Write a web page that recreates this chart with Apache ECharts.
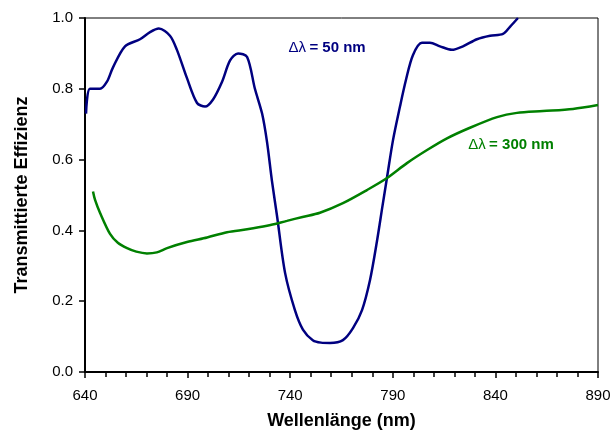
<!DOCTYPE html>
<html>
<head>
<meta charset="utf-8">
<script src="https://cdn.jsdelivr.net/npm/echarts@6/dist/echarts.min.js"></script>
<style>
  html, body { margin: 0; padding: 0; background: #fff; }
  #chart { width: 611px; height: 432px; }
</style>
</head>
<body>
<div id="chart"></div>
<script>
var myChart = echarts.init(document.getElementById('chart'));

// Δλ = 50 nm  (Wellenlänge, Effizienz)
var wl50 = [640.5, 642.4, 647.3, 650.7, 653.6, 659.5, 666.8, 671.7, 676, 681.4, 684.8, 689.7, 694.6, 698.5, 702.4,
    706.8, 710.7, 714.6, 719, 722.8, 726.3, 728.7, 731.1, 733.6, 737.5, 742.3, 746.2, 751, 755, 759.4,
    765.7, 770.6, 775, 778.9, 782.3, 785, 787.2, 790.1, 793.5, 796.4, 799.8, 804.2, 808.1, 813,
    818.8, 824.2, 831, 837.4, 843.7, 847.1, 851];
var eff50 = [0.73, 0.80, 0.80, 0.82, 0.86, 0.92, 0.94, 0.96, 0.97, 0.95, 0.91, 0.83, 0.76, 0.75, 0.77,
    0.82, 0.88, 0.90, 0.89, 0.80, 0.73, 0.65, 0.54, 0.44, 0.28, 0.175, 0.12, 0.09, 0.083, 0.082,
    0.09, 0.124, 0.175, 0.26, 0.37, 0.47, 0.55, 0.655, 0.75, 0.825, 0.895, 0.93, 0.93, 0.92,
    0.91, 0.92, 0.94, 0.95, 0.955, 0.975, 1.0];

// Δλ = 300 nm
var wl300 = [643.9, 644.9, 647.3, 652.2, 656, 660.5, 665, 670.2, 675, 680, 689.7, 699.5, 709.2, 719, 728.7,
    738.4, 746, 754.5, 765.7, 777.4, 787.2, 796.9, 806.7, 816.4, 827.6, 840.8, 850.5, 863.2, 877.8, 890];
var eff300 = [0.51, 0.486, 0.45, 0.39, 0.365, 0.35, 0.34, 0.335, 0.338, 0.35, 0.367, 0.38, 0.395, 0.403, 0.413,
    0.427, 0.438, 0.45, 0.477, 0.514, 0.548, 0.59, 0.627, 0.66, 0.69, 0.72, 0.732, 0.737, 0.743, 0.754];

var pairs = function (xs, ys) {
    var res = [];
    for (var i = 0; i < xs.length; i++) {
        res.push([xs[i], ys[i]]);
    }
    return res;
};

var font = 'Liberation Sans, Arial, sans-serif';

// Beschriftung: Δλ normal, Rest fett
var curveLabel = function (text, color) {
    return {
        show: true, position: 'inside',
        formatter: '{a|Δλ} {b|' + text + '}',
        rich: {
            a: { fontFamily: font, fontSize: 15, color: color },
            b: { fontFamily: font, fontSize: 15, fontWeight: 'bold', color: color }
        }
    };
};

option = {
    backgroundColor: '#fff',
    animation: false,
    grid: {
        left: 85, right: 13, top: 18, bottom: 60,
        outerBoundsMode: 'none',
        containLabel: false,
        show: true,
        borderColor: '#000',
        borderWidth: 1
    },
    xAxis: {
        type: 'value',
        min: 640, max: 890, interval: 50,
        name: 'Wellenlänge (nm)',
        nameLocation: 'middle',
        nameGap: 40,
        nameTextStyle: { fontFamily: font, fontWeight: 'bold', fontSize: 18, color: '#000' },
        axisLine: { lineStyle: { color: '#000', width: 2 } },
        axisTick: { length: 6, lineStyle: { color: '#000', width: 1.5 } },
        minorTick: { show: true, splitNumber: 5, length: 5, lineStyle: { color: '#000', width: 1.5 } },
        axisLabel: { fontFamily: font, fontSize: 15, color: '#000', margin: 16 },
        splitLine: { show: false }
    },
    yAxis: {
        type: 'value',
        min: 0, max: 1, interval: 0.2,
        name: 'Transmittierte Effizienz',
        nameLocation: 'middle',
        nameGap: 54,
        nameTextStyle: { fontFamily: font, fontWeight: 'bold', fontSize: 18, color: '#000' },
        axisLine: { show: true, lineStyle: { color: '#000', width: 2 } },
        axisTick: { show: true, length: 6, lineStyle: { color: '#000', width: 1.5 } },
        axisLabel: {
            fontFamily: font, fontSize: 15, color: '#000', margin: 12,
            formatter: function (v) { return v.toFixed(1); }
        },
        splitLine: { show: false }
    },
    series: [
        {
            name: 'Δλ = 50 nm',
            type: 'line',
            data: pairs(wl50, eff50),
            smooth: 0.3,
            showSymbol: false,
            lineStyle: { color: '#000080', width: 2.5 },
            markPoint: {
                symbol: 'circle', symbolSize: 0,
                label: curveLabel('= 50 nm', '#000080'),
                data: [{ coord: [758, 0.915] }]
            }
        },
        {
            name: 'Δλ = 300 nm',
            type: 'line',
            data: pairs(wl300, eff300),
            smooth: 0.3,
            showSymbol: false,
            lineStyle: { color: '#008000', width: 2.5 },
            markPoint: {
                symbol: 'circle', symbolSize: 0,
                label: curveLabel('= 300 nm', '#008000'),
                data: [{ coord: [847.6, 0.641] }]
            }
        }
    ]
};

myChart.setOption(option);
</script>
</body>
</html>
